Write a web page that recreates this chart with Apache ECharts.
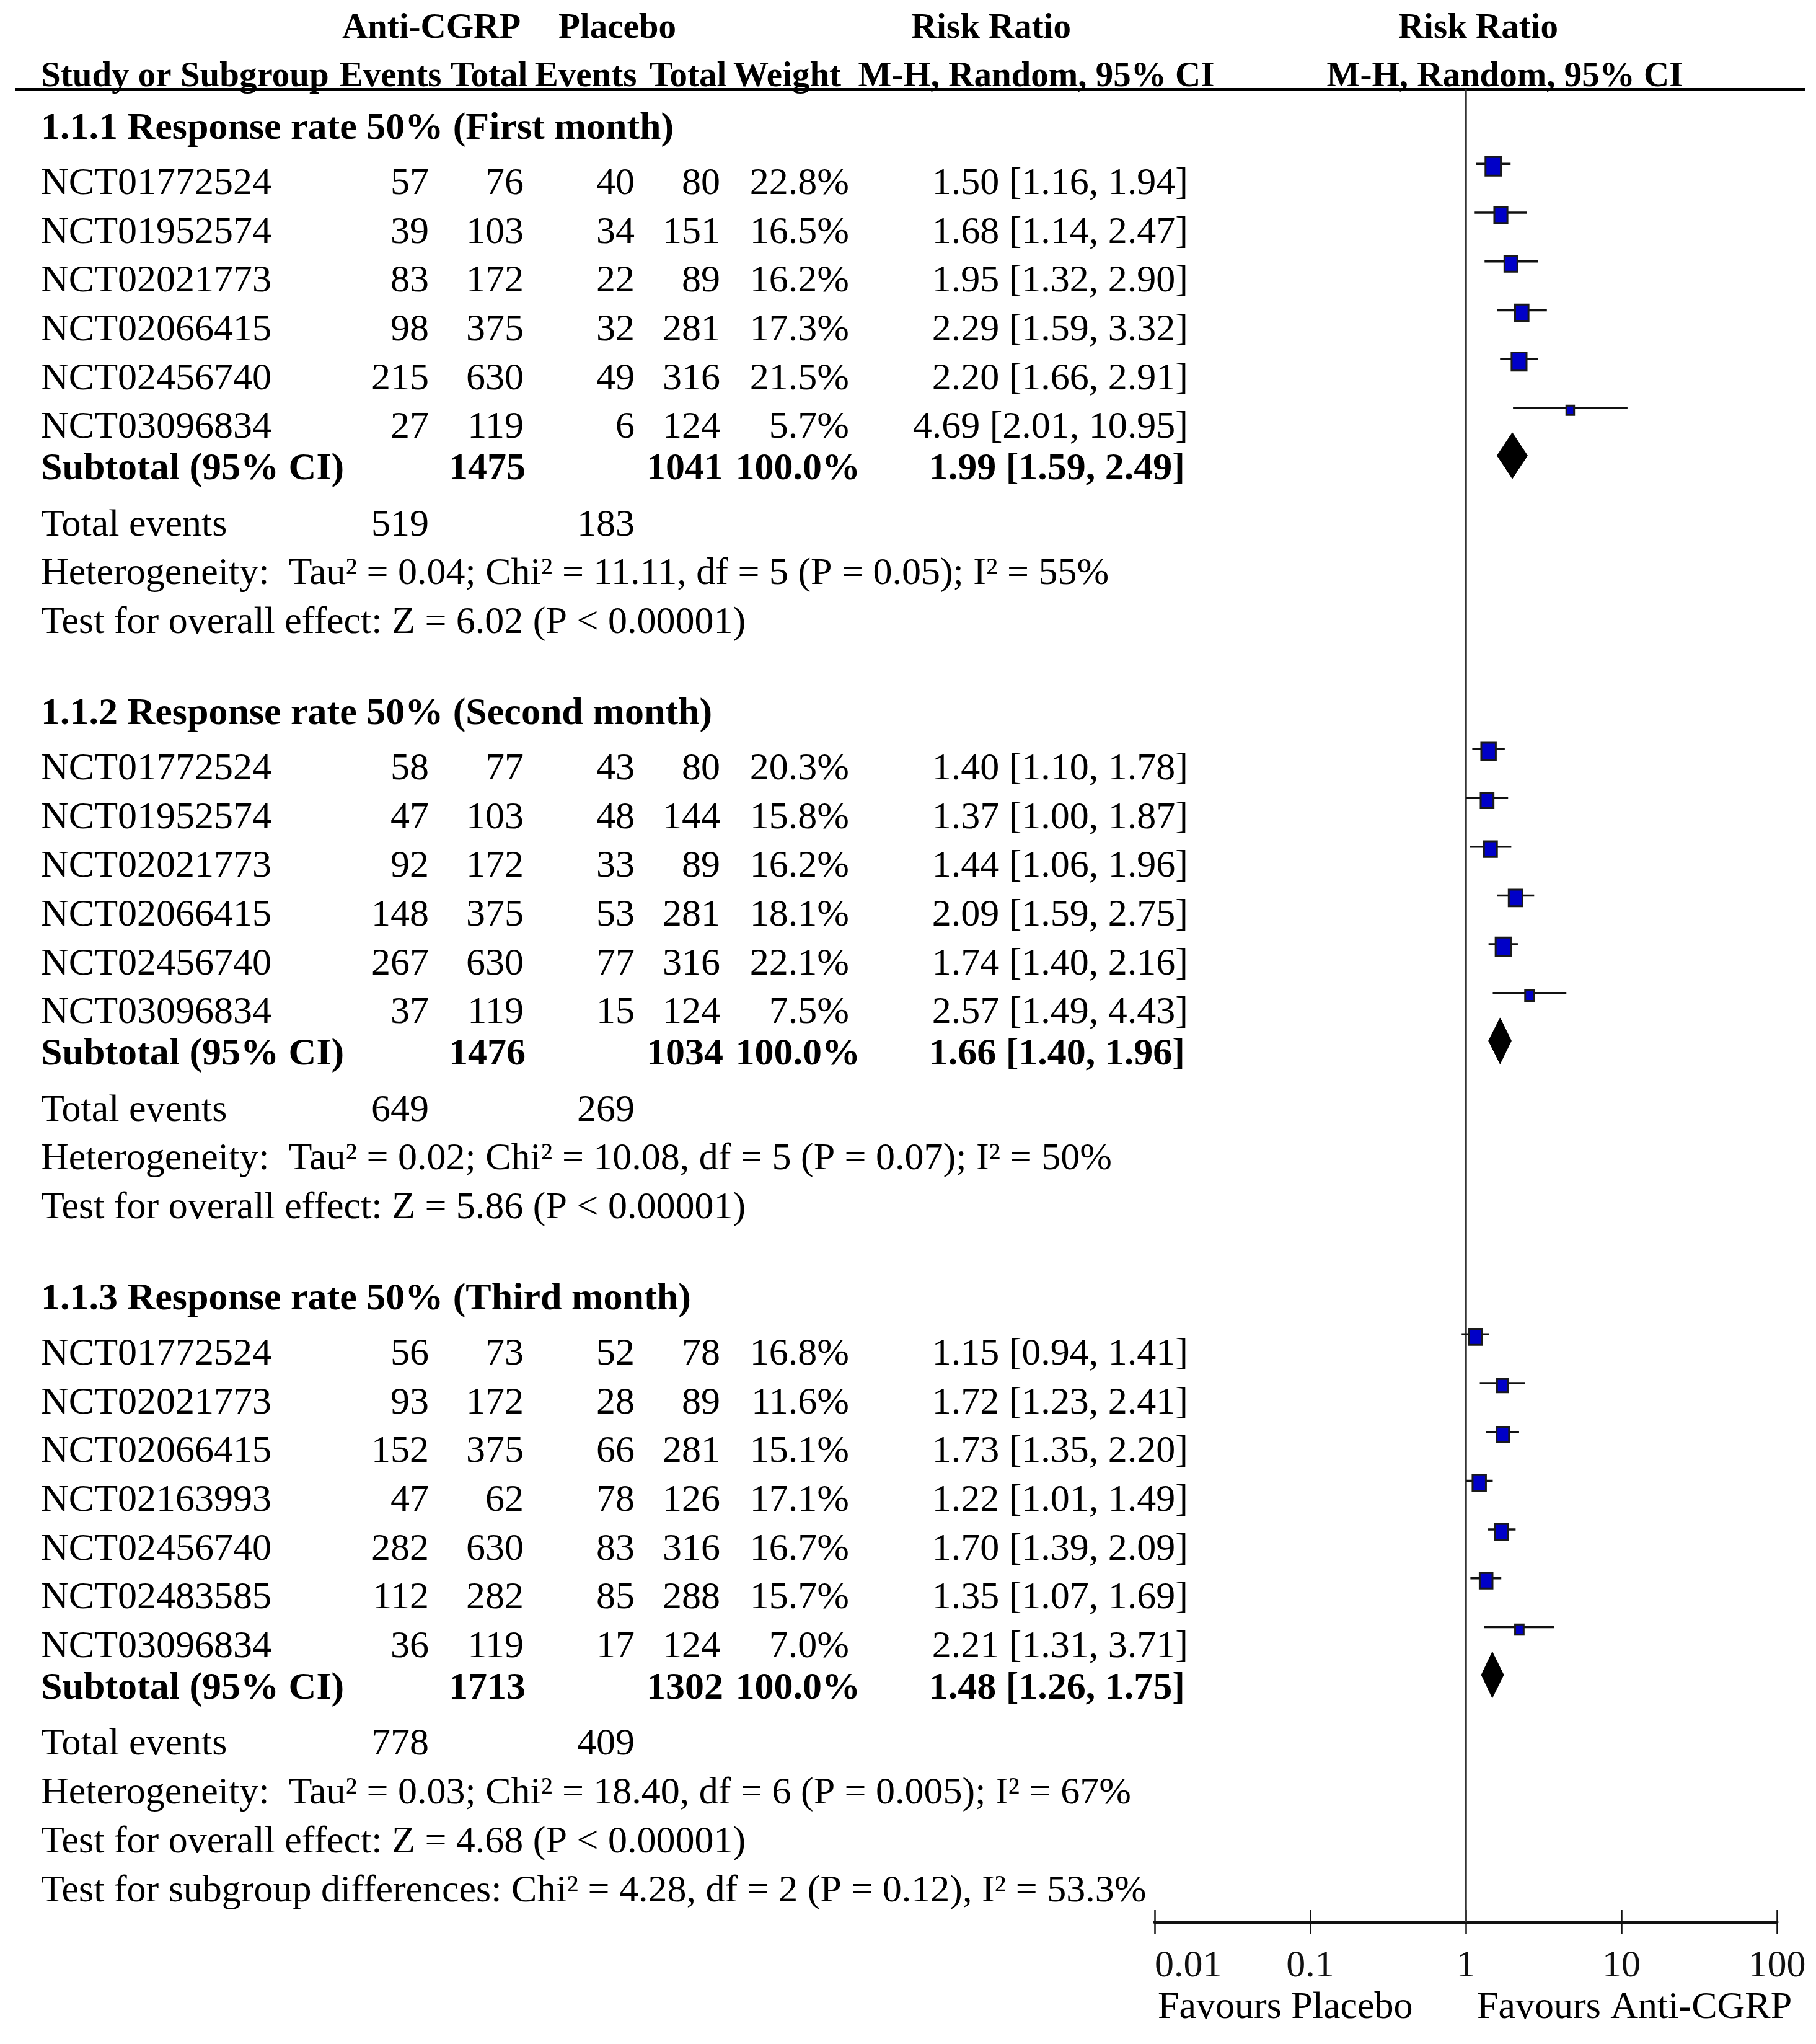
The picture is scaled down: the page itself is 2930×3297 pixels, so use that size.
<!DOCTYPE html>
<html><head><meta charset="utf-8">
<script src="https://cdn.jsdelivr.net/npm/echarts@6/dist/echarts.min.js"></script>
<style>html,body{margin:0;padding:0;background:#fff}#c{width:2930px;height:3297px}</style>
</head><body><div id="c"></div>
<script>
// ---------------- DATA ----------------
const groupTitles = ['1.1.1 Response rate 50% (First month)', '1.1.2 Response rate 50% (Second month)', '1.1.3 Response rate 50% (Third month)'];

const g1Studies = ['NCT01772524','NCT01952574','NCT02021773','NCT02066415','NCT02456740','NCT03096834'];
const g1AntiEvents = [57, 39, 83, 98, 215, 27];
const g1AntiTotal = [76, 103, 172, 375, 630, 119];
const g1PlacEvents = [40, 34, 22, 32, 49, 6];
const g1PlacTotal = [80, 151, 89, 281, 316, 124];
const g1Weight = [22.8, 16.5, 16.2, 17.3, 21.5, 5.7];
const g1RR = [1.50, 1.68, 1.95, 2.29, 2.20, 4.69];
const g1Lo = [1.16, 1.14, 1.32, 1.59, 1.66, 2.01];
const g1Hi = [1.94, 2.47, 2.90, 3.32, 2.91, 10.95];

const g2Studies = ['NCT01772524','NCT01952574','NCT02021773','NCT02066415','NCT02456740','NCT03096834'];
const g2AntiEvents = [58, 47, 92, 148, 267, 37];
const g2AntiTotal = [77, 103, 172, 375, 630, 119];
const g2PlacEvents = [43, 48, 33, 53, 77, 15];
const g2PlacTotal = [80, 144, 89, 281, 316, 124];
const g2Weight = [20.3, 15.8, 16.2, 18.1, 22.1, 7.5];
const g2RR = [1.40, 1.37, 1.44, 2.09, 1.74, 2.57];
const g2Lo = [1.10, 1.00, 1.06, 1.59, 1.40, 1.49];
const g2Hi = [1.78, 1.87, 1.96, 2.75, 2.16, 4.43];

const g3Studies = ['NCT01772524','NCT02021773','NCT02066415','NCT02163993','NCT02456740','NCT02483585','NCT03096834'];
const g3AntiEvents = [56, 93, 152, 47, 282, 112, 36];
const g3AntiTotal = [73, 172, 375, 62, 630, 282, 119];
const g3PlacEvents = [52, 28, 66, 78, 83, 85, 17];
const g3PlacTotal = [78, 89, 281, 126, 316, 288, 124];
const g3Weight = [16.8, 11.6, 15.1, 17.1, 16.7, 15.7, 7.0];
const g3RR = [1.15, 1.72, 1.73, 1.22, 1.70, 1.35, 2.21];
const g3Lo = [0.94, 1.23, 1.35, 1.01, 1.39, 1.07, 1.31];
const g3Hi = [1.41, 2.41, 2.20, 1.49, 2.09, 1.69, 3.71];

const subAntiTotal = [1475, 1476, 1713];
const subPlacTotal = [1041, 1034, 1302];
const subRR = [1.99, 1.66, 1.48];
const subLo = [1.59, 1.40, 1.26];
const subHi = [2.49, 1.96, 1.75];
const totAntiEvents = [519, 649, 778];
const totPlacEvents = [183, 269, 409];
const hetTau2 = ['0.04', '0.02', '0.03'];
const hetChi2 = ['11.11', '10.08', '18.40'];
const hetDf = [5, 5, 6];
const hetP = ['0.05', '0.07', '0.005'];
const hetI2 = ['55%', '50%', '67%'];
const overallZ = ['6.02', '5.86', '4.68'];
const overallP = ['< 0.00001', '< 0.00001', '< 0.00001'];
const subgroupTest = 'Test for subgroup differences: Chi\u00b2 = 4.28, df = 2 (P = 0.12), I\u00b2 = 53.3%';

const tickLabels = ['0.01', '0.1', '1', '10', '100'];
const favourLeft = 'Favours Placebo';
const favourRight = 'Favours Anti-CGRP';

// ---------------- LAYOUT ----------------
const groups = [
  {st: g1Studies, ae: g1AntiEvents, at: g1AntiTotal, pe: g1PlacEvents, pt: g1PlacTotal, w: g1Weight, rr: g1RR, lo: g1Lo, hi: g1Hi},
  {st: g2Studies, ae: g2AntiEvents, at: g2AntiTotal, pe: g2PlacEvents, pt: g2PlacTotal, w: g2Weight, rr: g2RR, lo: g2Lo, hi: g2Hi},
  {st: g3Studies, ae: g3AntiEvents, at: g3AntiTotal, pe: g3PlacEvents, pt: g3PlacTotal, w: g3Weight, rr: g3RR, lo: g3Lo, hi: g3Hi}
];
const FONT = '"Liberation Serif", "Times New Roman", serif';
const FS = 62;
const HFS = 57;
const GRID_TOP = 143, AXIS_Y = 3100, ROW_PX = 78.7;
const Y_MAX = (AXIS_Y - GRID_TOP) / ROW_PX;
const COL = {label: 66, ae: 692, at: 845, pe: 1024, pt: 1162, w: 1370, rr: 1917};
const SUBCOL = {at: 848, pt: 1167, w: 1388, rr: 1912};

const rows = [];
const studyMarks = [];
const diamonds = [];
let y = 0.826;
groups.forEach((g, gi) => {
  rows.push({kind: 'head', y: y, text: groupTitles[gi]});
  let yy = y + 1.125;
  g.st.forEach((s, i) => {
    rows.push({kind: 'study', y: yy, label: s, ae: g.ae[i], at: g.at[i], pe: g.pe[i], pt: g.pt[i],
      w: g.w[i].toFixed(1) + '%', ci: g.rr[i].toFixed(2) + ' [' + g.lo[i].toFixed(2) + ', ' + g.hi[i].toFixed(2) + ']'});
    studyMarks.push([g.lo[i], g.hi[i], g.rr[i], g.w[i], yy - 0.41]);
    yy += 1;
  });
  const ys = yy - 1 + 0.85;
  rows.push({kind: 'sub', y: ys, at: subAntiTotal[gi], pt: subPlacTotal[gi],
    ci: subRR[gi].toFixed(2) + ' [' + subLo[gi].toFixed(2) + ', ' + subHi[gi].toFixed(2) + ']'});
  diamonds.push([subLo[gi], subHi[gi], subRR[gi], ys - 0.28]);
  rows.push({kind: 'tot', y: ys + 1.15, ae: totAntiEvents[gi], pe: totPlacEvents[gi]});
  rows.push({kind: 'line', y: ys + 2.15, text: 'Heterogeneity:  Tau\u00b2 = ' + hetTau2[gi] + '; Chi\u00b2 = ' + hetChi2[gi] + ', df = ' + hetDf[gi] + ' (P = ' + hetP[gi] + '); I\u00b2 = ' + hetI2[gi]});
  rows.push({kind: 'line', y: ys + 3.15, text: 'Test for overall effect: Z = ' + overallZ[gi] + ' (P ' + overallP[gi] + ')'});
  y = ys + 3.15 + 1.87;
});
rows.push({kind: 'line', y: y - 1.87 + 1, text: subgroupTest});

function txt(x, yPix, text, align, bold, size) {
  return {type: 'text', x: x, y: yPix, style: {text: String(text), fontFamily: FONT, fontSize: size || FS,
    fontWeight: bold ? 'bold' : 'normal', fill: '#000', align: align, verticalAlign: 'middle'}};
}

const chart = echarts.init(document.getElementById('c'), null, {renderer: 'canvas'});
const option = {
  animation: false,
  backgroundColor: '#fff',
  grid: {left: 1863, right: 63, top: GRID_TOP, bottom: 3297 - AXIS_Y, containLabel: false},
  xAxis: [{
    type: 'log', logBase: 10, min: 0.01, max: 100, position: 'bottom',
    axisLine: {show: true, onZero: false, lineStyle: {color: '#111', width: 5}},
    axisTick: {show: true, inside: false, length: 19, lineStyle: {color: '#111', width: 2.5}},
    axisLabel: {show: true, margin: 41, fontFamily: FONT, fontSize: FS, color: '#111',
      alignMinLabel: 'left', alignMaxLabel: 'center',
      formatter: (v, i) => tickLabels[i]},
    splitLine: {show: false}
  }, {
    type: 'log', logBase: 10, min: 0.01, max: 100, position: 'bottom', offset: 0,
    axisLine: {show: false, onZero: false},
    axisTick: {show: true, inside: true, length: 19, lineStyle: {color: '#111', width: 2.5}},
    axisLabel: {show: false}, splitLine: {show: false}
  }],
  yAxis: {type: 'value', inverse: true, min: 0, max: Y_MAX, show: false},
  graphic: [
    {type: 'line', shape: {x1: 25, y1: 144, x2: 2913, y2: 144}, style: {stroke: '#000', lineWidth: 4}},
    txt(696, 46, 'Anti-CGRP', 'center', true, HFS),
    txt(996, 46, 'Placebo', 'center', true, HFS),
    txt(1599, 46, 'Risk Ratio', 'center', true, HFS),
    txt(2385, 46, 'Risk Ratio', 'center', true, HFS),
    txt(66, 124, 'Study or Subgroup', 'left', true, HFS),
    txt(630, 124, 'Events', 'center', true, HFS),
    txt(789, 124, 'Total', 'center', true, HFS),
    txt(945, 124, 'Events', 'center', true, HFS),
    txt(1110, 124, 'Total', 'center', true, HFS),
    txt(1270, 124, 'Weight', 'center', true, HFS),
    txt(1672, 124, 'M-H, Random, 95% CI', 'center', true, HFS),
    txt(2428, 124, 'M-H, Random, 95% CI', 'center', true, HFS),
    txt(1868, 3239, favourLeft, 'left', false),
    txt(2383, 3239, favourRight, 'left', false)
  ],
  series: [
    {
      type: 'line', data: [[1, 0], [1, Y_MAX]], showSymbol: false, silent: true,
      lineStyle: {color: '#333', width: 3.5}, z: 1
    },
    {
      type: 'custom', name: 'table', silent: true, clip: false,
      data: rows.map(r => [1, r.y]),
      encode: {x: 0, y: 1},
      renderItem: (params, api) => {
        const r = rows[params.dataIndex];
        const yp = api.coord([1, api.value(1)])[1];
        const ch = [];
        if (r.kind === 'head') ch.push(txt(COL.label, yp, r.text, 'left', true));
        else if (r.kind === 'study') {
          ch.push(txt(COL.label, yp, r.label, 'left'));
          ch.push(txt(COL.ae, yp, r.ae, 'right'));
          ch.push(txt(COL.at, yp, r.at, 'right'));
          ch.push(txt(COL.pe, yp, r.pe, 'right'));
          ch.push(txt(COL.pt, yp, r.pt, 'right'));
          ch.push(txt(COL.w, yp, r.w, 'right'));
          ch.push(txt(COL.rr, yp, r.ci, 'right'));
        } else if (r.kind === 'sub') {
          ch.push(txt(COL.label, yp, 'Subtotal (95% CI)', 'left', true));
          ch.push(txt(SUBCOL.at, yp, r.at, 'right', true));
          ch.push(txt(SUBCOL.pt, yp, r.pt, 'right', true));
          ch.push(txt(SUBCOL.w, yp, '100.0%', 'right', true));
          ch.push(txt(SUBCOL.rr, yp, r.ci, 'right', true));
        } else if (r.kind === 'tot') {
          ch.push(txt(COL.label, yp, 'Total events', 'left'));
          ch.push(txt(COL.ae, yp, r.ae, 'right'));
          ch.push(txt(COL.pe, yp, r.pe, 'right'));
        } else ch.push(txt(COL.label, yp, r.text, 'left'));
        return {type: 'group', children: ch};
      }
    },
    {
      type: 'custom', name: 'studies', silent: true, clip: false,
      data: studyMarks, encode: {x: [0, 1, 2], y: 4},
      renderItem: (params, api) => {
        const yv = api.value(4);
        const a = api.coord([api.value(0), yv]);
        const b = api.coord([api.value(1), yv]);
        const c = api.coord([api.value(2), yv]);
        const sq = Math.sqrt(api.value(3));
        const sw = 5.2 * sq, sh = 6.3 * sq;
        return {type: 'group', children: [
          {type: 'line', shape: {x1: a[0], y1: a[1], x2: b[0], y2: b[1]}, style: {stroke: '#111', lineWidth: 3.5}},
          {type: 'rect', shape: {x: c[0] - sw / 2, y: c[1] - sh / 2 + 4, width: sw, height: sh},
            style: {fill: '#0000c8', stroke: '#1a1a1a', lineWidth: 3}}
        ]};
      }, z: 3
    },
    {
      type: 'custom', name: 'diamonds', silent: true, clip: false,
      data: diamonds, encode: {x: [0, 1, 2], y: 3},
      renderItem: (params, api) => {
        const yv = api.value(3);
        const a = api.coord([api.value(0), yv]);
        const b = api.coord([api.value(1), yv]);
        const c = api.coord([api.value(2), yv]);
        const h = 37;
        return {type: 'polygon', shape: {points: [[a[0], a[1]], [c[0], c[1] - h], [b[0], b[1]], [c[0], c[1] + h]]},
          style: {fill: '#000', stroke: '#000', lineWidth: 1}};
      }, z: 3
    }
  ]
};
chart.setOption(option);
</script></body></html>
